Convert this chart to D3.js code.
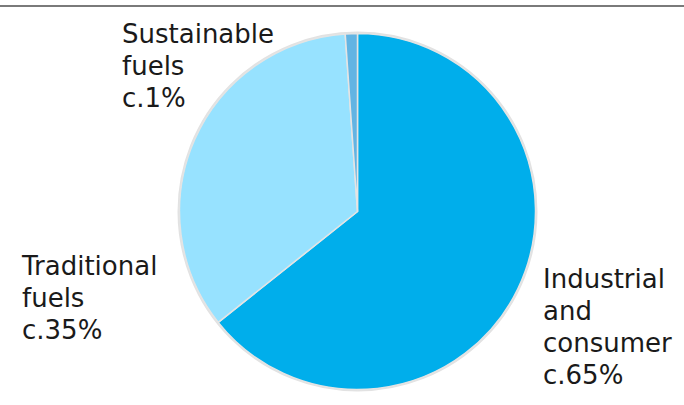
<!DOCTYPE html>
<html><head><meta charset="utf-8">
<script src="https://cdn.jsdelivr.net/npm/d3@7"></script>
<style>html,body{margin:0;padding:0;background:#fff;}svg{display:block;}</style>
</head><body>
<svg id="chart" width="684" height="405"></svg>
<script>
const categories = ["Industrial and consumer", "Traditional fuels", "Sustainable fuels"];
const values = [64.3, 34.6, 1.1];
const labelLines = [["Industrial", "and", "consumer", "c.65%"], ["Traditional", "fuels", "c.35%"], ["Sustainable", "fuels", "c.1%"]];
const colors = ["#00AEEB", "#97E2FF", "#62B4E3"];

const svg = d3.select("#chart");
const W = 684, H = 405;
svg.append("line").attr("x1", 0).attr("x2", W).attr("y1", 6).attr("y2", 6)
  .attr("stroke", "#7a7a7a").attr("stroke-width", 2);

const cx = 357.5, cy = 211.5, r = 178;
const pie = d3.pie().sort(null).value(d => d)(values);
const arc = d3.arc().innerRadius(0).outerRadius(r);
const g = svg.append("g").attr("transform", `translate(${cx},${cy})`);
g.append("circle").attr("r", r + 1).attr("fill", "none").attr("stroke", "#e2e2e2").attr("stroke-width", 2);
g.selectAll("path").data(pie).join("path")
  .attr("d", arc).attr("fill", (d, i) => colors[i])
  .attr("stroke", "#e4e4e4").attr("stroke-width", 1.5).attr("stroke-linejoin", "round");

const labelPos = [[543, 288], [22, 275], [122, 43]];
const lh = 32;
labelLines.forEach((lines, i) => {
  const t = svg.append("text").attr("font-family", "DejaVu Sans, Verdana, sans-serif")
    .attr("font-size", 26).attr("fill", "#1a1a1a");
  lines.forEach((s, j) => t.append("tspan").attr("x", labelPos[i][0]).attr("y", labelPos[i][1] + j * lh).text(s));
});
</script>
</body></html>
